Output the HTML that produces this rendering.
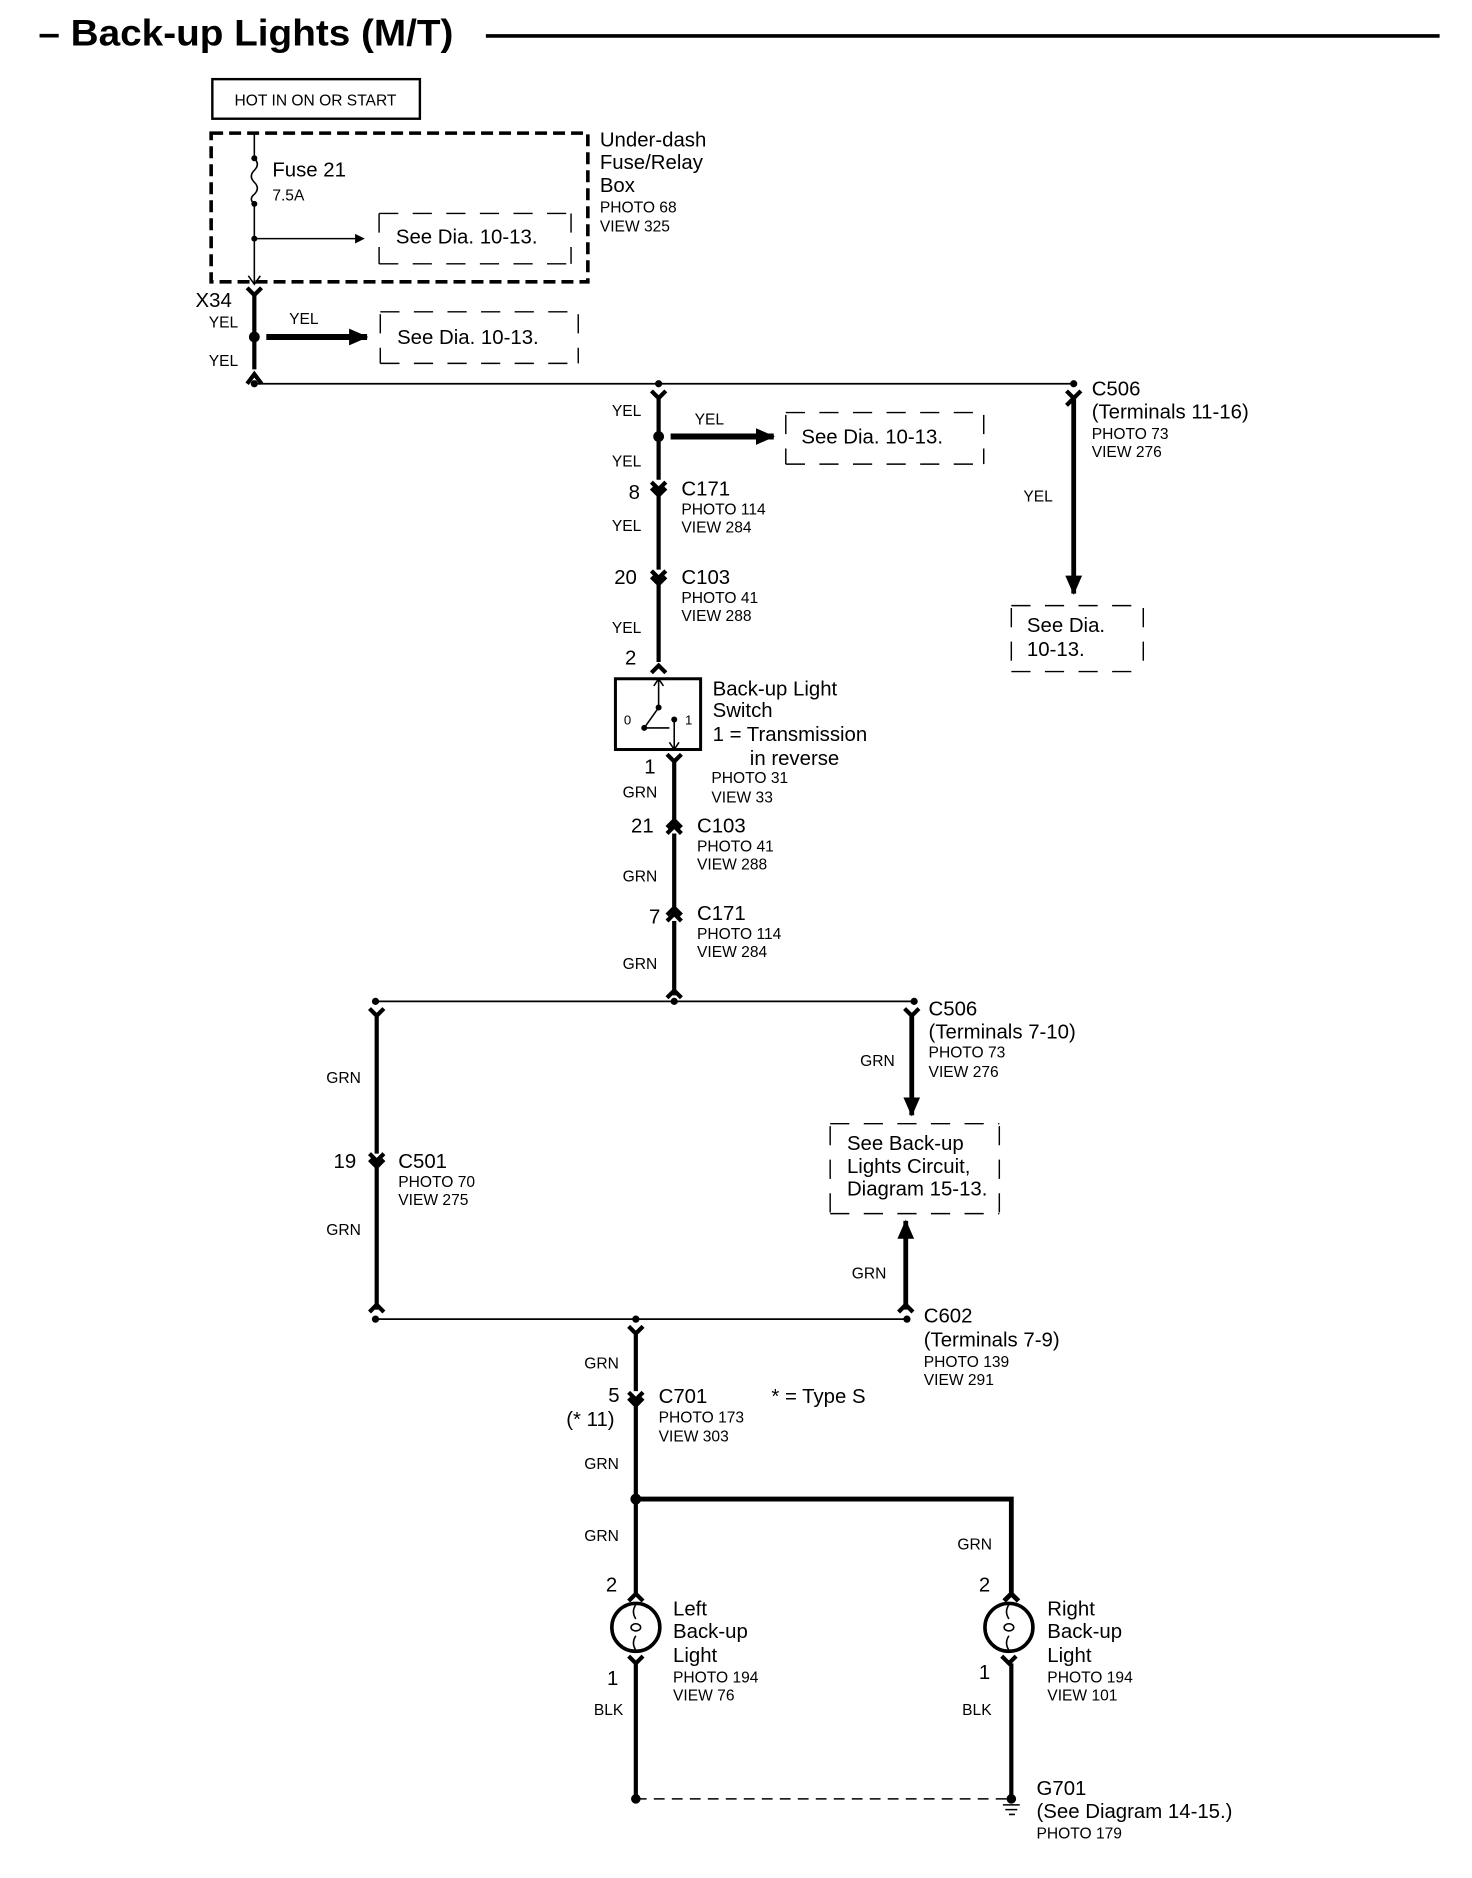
<!DOCTYPE html>
<html><head><meta charset="utf-8"><style>
html,body{margin:0;padding:0;background:#fff}
svg{display:block}
text{font-family:"Liberation Sans",Arial,sans-serif;fill:#000}
.b{font-size:17px}.s{font-size:13px}.t{font-size:13.5px}
</style></head><body>
<svg width="1472" height="1878" viewBox="0 0 1227 1566" preserveAspectRatio="none" xmlns="http://www.w3.org/2000/svg">
<defs>
<marker id="ah" markerWidth="8" markerHeight="8" refX="7" refY="4" orient="auto" markerUnits="userSpaceOnUse"><path d="M0,0 L8,4 L0,8z"/></marker>
<marker id="ahb" markerWidth="16" markerHeight="14" refX="15" refY="7" orient="auto" markerUnits="userSpaceOnUse"><path d="M0,0 L16,7 L0,14z"/></marker>
</defs>
<g fill="none" stroke="#000">
<line x1="405" y1="30" x2="1200" y2="30" stroke-width="3"/>
<rect x="177" y="66" width="173" height="33" stroke-width="2"/>
<rect x="176" y="111" width="314" height="124" stroke-width="3" stroke-dasharray="10,5"/>
<path d="M212,111 V132 M212,170 V237" stroke-width="1.3"/>
<path d="M212,132 q5,5 0,10 q-5,5 0,10 q5,5 0,10 q-5,4 0,8" stroke-width="1.3"/>
<path d="M207,230 L212,237 L217,230" stroke-width="1.3"/>
<line x1="212" y1="199" x2="303" y2="199" stroke-width="1.3" marker-end="url(#ah)"/>
<path d="M316,178 V220 M476,178 V220 M316,178 H476 M316,220 H476" stroke-width="1.2" stroke-dasharray="16,12"/>
<path d="M206,240 L212,246 L218,240 M212,246 V308 M206,320 L212,312 L218,320" stroke-width="3.5"/>
<line x1="222" y1="281" x2="306" y2="281" stroke-width="5" marker-end="url(#ahb)"/>
<path d="M317,260 H482 M317,303 H482 M317,262 V303 M482,262 V303" stroke-width="1.2" stroke-dasharray="16,12"/>
<line x1="212" y1="320" x2="895" y2="320" stroke-width="1.5"/>
<path d="M543,326 L549,332 L555,326 M549,332 V400 M543,402 L549,408 L555,402 M543,407 L549,413 L555,407 M549,413 V475 M543,476 L549,482 L555,476 M543,481 L549,487 L555,481 M549,487 V552 M543,561 L549,555 L555,561" stroke-width="3.5"/>
<line x1="559" y1="364" x2="645" y2="364" stroke-width="5" marker-end="url(#ahb)"/>
<path d="M655,344 H820 M655,387 H820 M655,346 V387 M820,346 V387" stroke-width="1.2" stroke-dasharray="16,12"/>
<path d="M889,326 L895,332 L889,338 M901,326 L895,332 M895,332 V484" stroke-width="3.5"/>
<line x1="895" y1="330" x2="895" y2="495" stroke-width="4" marker-end="url(#ahb)"/>
<path d="M843,505 H953 M843,560 H953 M843,507 V560 M953,507 V560" stroke-width="1.2" stroke-dasharray="16,12"/>
<rect x="513" y="566" width="71" height="59" stroke-width="2.5"/>
<path d="M549,566 V590 M545,572 L549,566 L553,572 M549,590 L537,607 M537,607 L558,607 M562,600 V625 M558,619 L562,625 L566,619" stroke-width="1.3"/>
<path d="M556,629 L562,635 L568,629 M562,635 V690 M556,690 L562,684 L568,690 M556,695 L562,689 L568,695 M562,695 V762 M556,763 L562,757 L568,763 M556,768 L562,762 L568,768 M562,768 V830 M556,832 L562,826 L568,832" stroke-width="3.5"/>
<line x1="313" y1="835" x2="762" y2="835" stroke-width="1.5"/>
<path d="M308,841 L314,847 L320,841 M314,847 V962 M308,962 L314,968 L320,962 M308,967 L314,973 L320,967 M314,973 V1092 M308,1094 L314,1088 L320,1094" stroke-width="3.5"/>
<path d="M754,841 L760,847 L766,841 M760,847 V915" stroke-width="3.5"/>
<line x1="760" y1="845" x2="760" y2="930" stroke-width="4" marker-end="url(#ahb)"/>
<path d="M692,937 H833 M692,1012 H833 M692,939 V1012 M833,939 V1012" stroke-width="1.2" stroke-dasharray="16,12"/>
<line x1="755" y1="1092" x2="755" y2="1018" stroke-width="4" marker-end="url(#ahb)"/>
<path d="M749,1094 L755,1088 L761,1094" stroke-width="3.5"/>
<line x1="313" y1="1100" x2="756" y2="1100" stroke-width="1.5"/>
<path d="M524,1106 L530,1112 L536,1106 M530,1112 V1160 M524,1161 L530,1167 L536,1161 M524,1166 L530,1172 L536,1166 M530,1172 V1330 M524,1335 L530,1329 L536,1335" stroke-width="3.5"/>
<path d="M530,1250 H843 V1330 M837,1335 L843,1329 L849,1335" stroke-width="4"/>
<circle cx="530" cy="1357" r="20" stroke-width="3"/>
<circle cx="841" cy="1357" r="20" stroke-width="3"/>
<path d="M530,1338 q-4,6 0,12 M530,1364 q-4,6 0,12 M526,1357 a4,3 0 1 0 8,0 a4,3 0 1 0 -8,0" stroke-width="1.3"/>
<path d="M841,1338 q-4,6 0,12 M841,1364 q-4,6 0,12 M837,1357 a4,3 0 1 0 8,0 a4,3 0 1 0 -8,0" stroke-width="1.3"/>
<path d="M524,1381 L530,1387 L536,1381 M530,1387 V1497 M835,1381 L841,1387 L847,1381 M843,1387 V1497" stroke-width="3.5"/>
<line x1="530" y1="1500" x2="843" y2="1500" stroke-width="1.2" stroke-dasharray="9,6"/>
<path d="M836,1505 H850 M838,1509 H848 M841,1513 H846" stroke-width="1.3"/>
</g>
<g>
<circle cx="212" cy="132" r="2.5"/><circle cx="212" cy="170" r="2.5"/><circle cx="212" cy="199" r="2.5"/>
<circle cx="212" cy="281" r="4.5"/><circle cx="212" cy="320" r="3"/><circle cx="549" cy="320" r="3"/><circle cx="895" cy="320" r="3"/>
<circle cx="549" cy="364" r="4.5"/>
<circle cx="549" cy="590" r="2.5"/><circle cx="537" cy="607" r="2.5"/><circle cx="562" cy="600" r="2.5"/>
<circle cx="313" cy="835" r="3"/><circle cx="562" cy="835" r="3"/><circle cx="762" cy="835" r="3"/>
<circle cx="313" cy="1100" r="3"/><circle cx="530" cy="1100" r="3"/><circle cx="756" cy="1100" r="3"/>
<circle cx="530" cy="1250" r="4.5"/><circle cx="530" cy="1500" r="4"/><circle cx="843" cy="1500" r="4"/>
</g>
<text x="32" y="38" style="font-size:31px;font-weight:bold" textLength="346" lengthAdjust="spacingAndGlyphs">– Back-up Lights (M/T)</text>
<text x="263" y="88" class="s" text-anchor="middle">HOT IN ON OR START</text>
<text x="227" y="147" class="b">Fuse 21</text><text x="227" y="167" class="s">7.5A</text>
<text x="330" y="203" class="b">See Dia. 10-13.</text>
<text x="500" y="122" class="b">Under-dash</text><text x="500" y="141" class="b">Fuse/Relay</text><text x="500" y="160" class="b">Box</text>
<text x="500" y="177" class="s">PHOTO 68</text><text x="500" y="193" class="s">VIEW 325</text>
<text x="163" y="256" class="b">X34</text>
<text x="174" y="273" class="s">YEL</text><text x="174" y="305" class="s">YEL</text><text x="241" y="270" class="s">YEL</text>
<text x="331" y="287" class="b">See Dia. 10-13.</text>
<text x="510" y="347" class="s">YEL</text><text x="579" y="354" class="s">YEL</text>
<text x="668" y="370" class="b">See Dia. 10-13.</text>
<text x="510" y="389" class="s">YEL</text>
<text x="524" y="416" class="b">8</text><text x="568" y="413" class="b">C171</text><text x="568" y="429" class="s">PHOTO 114</text><text x="568" y="444" class="s">VIEW 284</text>
<text x="510" y="443" class="s">YEL</text>
<text x="512" y="487" class="b">20</text><text x="568" y="487" class="b">C103</text><text x="568" y="503" class="s">PHOTO 41</text><text x="568" y="518" class="s">VIEW 288</text>
<text x="510" y="528" class="s">YEL</text><text x="521" y="554" class="b">2</text>
<text x="910" y="330" class="b">C506</text><text x="910" y="349" class="b">(Terminals 11-16)</text><text x="910" y="366" class="s">PHOTO 73</text><text x="910" y="381" class="s">VIEW 276</text>
<text x="853" y="418" class="s">YEL</text>
<text x="856" y="527" class="b">See Dia.</text><text x="856" y="547" class="b">10-13.</text>
<text x="520" y="604" style="font-size:11px">0</text><text x="571" y="604" style="font-size:11px">1</text>
<text x="594" y="580" class="b">Back-up Light</text><text x="594" y="598" class="b">Switch</text><text x="594" y="618" class="b">1 = Transmission</text><text x="625" y="638" class="b">in reverse</text>
<text x="593" y="653" class="s">PHOTO 31</text><text x="593" y="669" class="s">VIEW 33</text>
<text x="537" y="645" class="b">1</text><text x="519" y="665" class="s">GRN</text>
<text x="526" y="694" class="b">21</text><text x="581" y="694" class="b">C103</text><text x="581" y="710" class="s">PHOTO 41</text><text x="581" y="725" class="s">VIEW 288</text>
<text x="519" y="735" class="s">GRN</text>
<text x="541" y="770" class="b">7</text><text x="581" y="767" class="b">C171</text><text x="581" y="783" class="s">PHOTO 114</text><text x="581" y="798" class="s">VIEW 284</text>
<text x="519" y="808" class="s">GRN</text>
<text x="272" y="903" class="s">GRN</text>
<text x="278" y="974" class="b">19</text><text x="332" y="974" class="b">C501</text><text x="332" y="990" class="s">PHOTO 70</text><text x="332" y="1005" class="s">VIEW 275</text>
<text x="272" y="1030" class="s">GRN</text>
<text x="774" y="847" class="b">C506</text><text x="774" y="866" class="b">(Terminals 7-10)</text><text x="774" y="882" class="s">PHOTO 73</text><text x="774" y="898" class="s">VIEW 276</text>
<text x="717" y="889" class="s">GRN</text>
<text x="706" y="959" class="b">See Back-up</text><text x="706" y="978" class="b">Lights Circuit,</text><text x="706" y="997" class="b">Diagram 15-13.</text>
<text x="710" y="1066" class="s">GRN</text>
<text x="770" y="1103" class="b">C602</text><text x="770" y="1123" class="b">(Terminals 7-9)</text><text x="770" y="1140" class="s">PHOTO 139</text><text x="770" y="1155" class="s">VIEW 291</text>
<text x="487" y="1141" class="s">GRN</text>
<text x="507" y="1169" class="b">5</text><text x="472" y="1189" class="b">(* 11)</text>
<text x="549" y="1170" class="b">C701</text><text x="549" y="1186" class="s">PHOTO 173</text><text x="549" y="1202" class="s">VIEW 303</text>
<text x="643" y="1170" class="b">* = Type S</text>
<text x="487" y="1225" class="s">GRN</text><text x="487" y="1285" class="s">GRN</text><text x="798" y="1292" class="s">GRN</text>
<text x="505" y="1327" class="b">2</text><text x="816" y="1327" class="b">2</text>
<text x="561" y="1347" class="b">Left</text><text x="561" y="1366" class="b">Back-up</text><text x="561" y="1386" class="b">Light</text><text x="561" y="1403" class="s">PHOTO 194</text><text x="561" y="1418" class="s">VIEW 76</text>
<text x="873" y="1347" class="b">Right</text><text x="873" y="1366" class="b">Back-up</text><text x="873" y="1386" class="b">Light</text><text x="873" y="1403" class="s">PHOTO 194</text><text x="873" y="1418" class="s">VIEW 101</text>
<text x="506" y="1405" class="b">1</text><text x="816" y="1400" class="b">1</text>
<text x="495" y="1430" class="s">BLK</text><text x="802" y="1430" class="s">BLK</text>
<text x="864" y="1497" class="b">G701</text><text x="864" y="1516" class="b">(See Diagram 14-15.)</text><text x="864" y="1533" class="s">PHOTO 179</text>
</svg>
</body></html>
